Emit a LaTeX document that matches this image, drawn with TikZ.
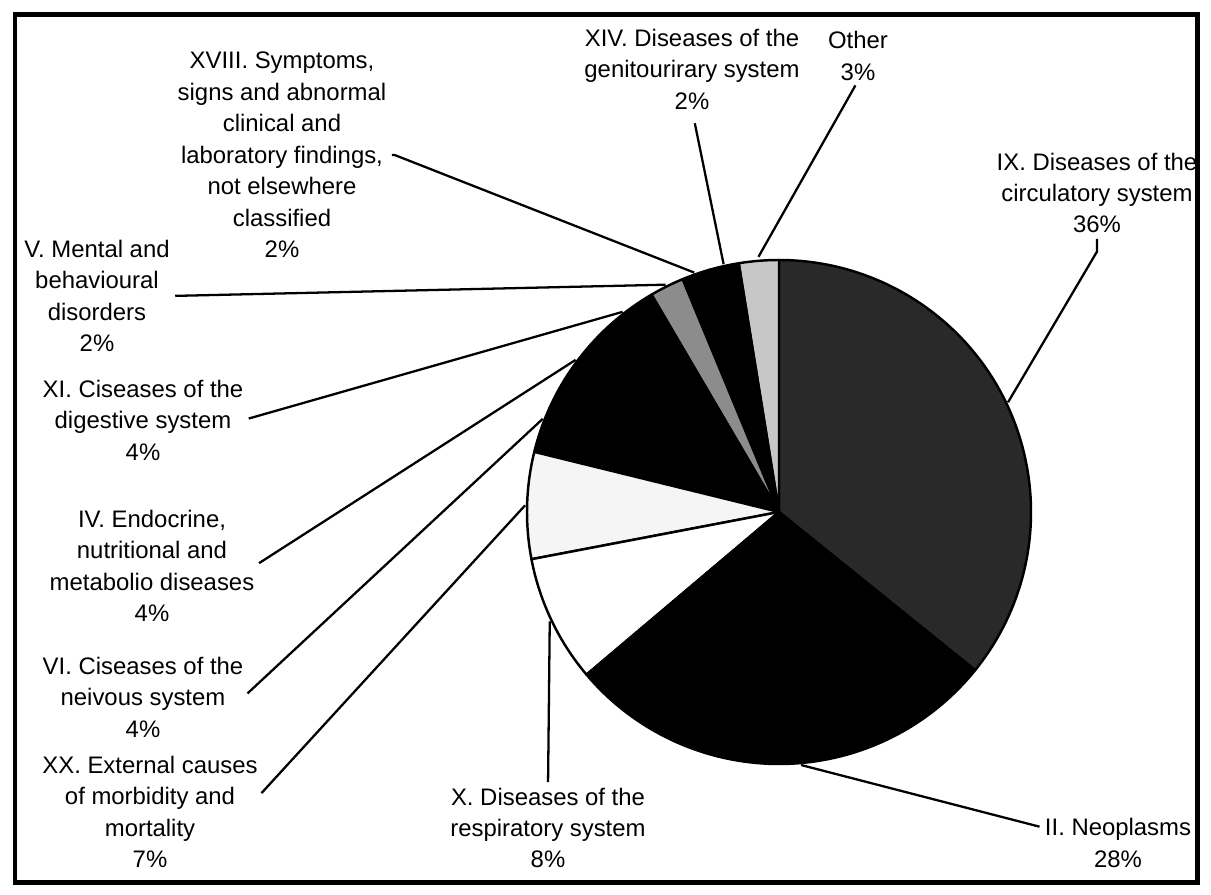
\documentclass[tikz,border=0pt]{standalone}
\usepackage{fontspec}
\setmainfont{Liberation Sans}
\usetikzlibrary{positioning}

\begin{document}
\begin{tikzpicture}[x=0.02cm,y=-0.02cm,
  lbl/.style={align=center,font=\fontsize{13.6}{17.9}\selectfont},
  slice/.style={draw=black,line width=1.4pt,line join=round},
  leader/.style={draw=black,line width=1.3pt,shorten <=3pt}]
\tikzstyle{every node}+=[inner sep=0pt]
\useasboundingbox (0,0) rectangle (1211,895);
\draw [line width=0.1cm] (15,15) rectangle (1197,882);
\begin{scope}[shift={(779,512)},y=0.02cm]
\filldraw [slice,fill=black!84] (0,0) -- (-38.9:252) arc[start angle=-38.9,end angle=90,radius=252] -- cycle;
\filldraw [slice,fill=black!22] (0,0) -- (90:252) arc[start angle=90,end angle=99.2,radius=252] -- cycle;
\filldraw [slice,fill=black] (0,0) -- (99.2:252) arc[start angle=99.2,end angle=106,radius=252] -- cycle;
\filldraw [slice,fill=black] (0,0) -- (106:252) arc[start angle=106,end angle=112.5,radius=252] -- cycle;
\filldraw [slice,fill=black!45] (0,0) -- (112.5:252) arc[start angle=112.5,end angle=120.4,radius=252] -- cycle;
\filldraw [slice,fill=black] (0,0) -- (120.4:252) arc[start angle=120.4,end angle=135.5,radius=252] -- cycle;
\filldraw [slice,fill=black] (0,0) -- (135.5:252) arc[start angle=135.5,end angle=150.8,radius=252] -- cycle;
\filldraw [slice,fill=black] (0,0) -- (150.8:252) arc[start angle=150.8,end angle=166.2,radius=252] -- cycle;
\filldraw [slice,fill=black!4] (0,0) -- (166.2:252) arc[start angle=166.2,end angle=190.8,radius=252] -- cycle;
\filldraw [slice,fill=white] (0,0) -- (190.8:252) arc[start angle=190.8,end angle=220.2,radius=252] -- cycle;
\filldraw [slice,fill=black] (0,0) -- (220.2:252) arc[start angle=220.2,end angle=321.1,radius=252] -- cycle;
\coordinate (pIX) at (25.6:254);
\coordinate (pOther) at (94.6:256);
\coordinate (pXIV) at (102.6:254);
\coordinate (pXVIII) at (109.5:254);
\coordinate (pV) at (116.5:254);
\coordinate (pXI) at (128:254);
\coordinate (pIV) at (143.2:254);
\coordinate (pVI) at (158.5:254);
\coordinate (pXX) at (178.5:254);
\coordinate (pX) at (205.5:254);
\coordinate (pII) at (275:254);
\end{scope}
\node [lbl] (sympt) at (282,155) {XVIII. Symptoms,\\signs and abnormal\\clinical and\\laboratory findings,\\not elsewhere\\classified\\2\%};
\node [lbl] (geni) at (692,69) {XIV. Diseases of the\\genitourirary system\\2\%};
\node [lbl] (other) at (858,56) {Other\\3\%};
\node [lbl] (circ) at (1097,193) {IX. Diseases of the\\circulatory system\\36\%};
\node [lbl] (ment) at (97,296) {V. Mental and\\behavioural\\disorders\\2\%};
\node [lbl] (dig) at (143,420) {XI. Ciseases of the\\digestive system\\4\%};
\node [lbl] (endo) at (152,566) {IV. Endocrine,\\nutritional and\\metabolio diseases\\4\%};
\node [lbl] (nerv) at (143,697) {VI. Ciseases of the\\neivous system\\4\%};
\node [lbl] (ext) at (150,812) {XX. External causes\\of morbidity and\\mortality\\7\%};
\node [lbl] (resp) at (548,828) {X. Diseases of the\\respiratory system\\8\%};
\node [lbl] (neo) at (1118,843) {II. Neoplasms\\28\%};
\draw [leader] (sympt.east) -- ++(8,0) -- (pXVIII);
\draw [leader,shorten <=8pt] (geni.south) -- (pXIV);
\draw [leader] (other.south) -- (pOther);
\draw [leader] (circ.south) -- ++(0,18) -- (pIX);
\draw [leader] (ment.east) -- (pV);
\draw [leader] (dig.east) -- (pXI);
\draw [leader] (endo.east) -- (pIV);
\draw [leader] (nerv.east) -- (pVI);
\draw [leader] ([yshift=0.3cm]ext.east) -- (pXX);
\draw [leader] (resp.north) -- (pX);
\draw [leader] ([yshift=0.3cm]neo.west) -- (pII);
\end{tikzpicture}
\end{document}
